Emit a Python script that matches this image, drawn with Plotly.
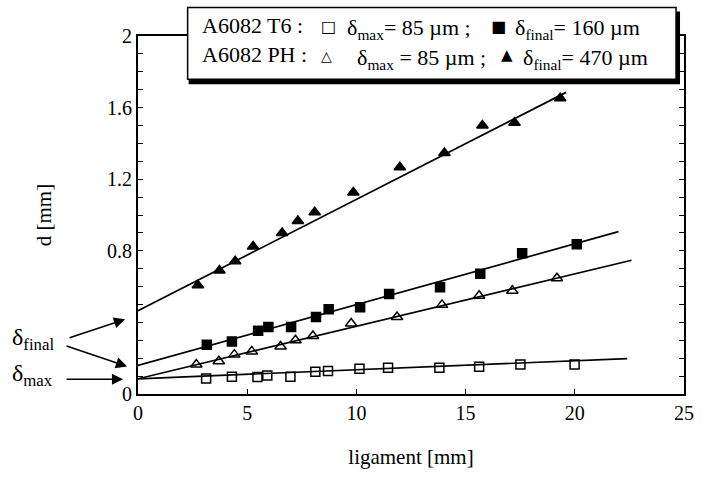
import plotly.graph_objects as go

# ---- data ----
t6_max_x = [3.12, 4.30, 5.47, 5.92, 6.98, 8.12, 8.70, 10.14, 11.45, 13.80, 15.62, 17.51, 19.99]
t6_max_y = [0.086, 0.097, 0.095, 0.104, 0.097, 0.125, 0.128, 0.141, 0.147, 0.147, 0.152, 0.165, 0.165]

t6_final_x = [3.15, 4.30, 5.50, 5.97, 7.01, 8.15, 8.73, 10.17, 11.50, 13.83, 15.67, 17.59, 20.09]
t6_final_y = [0.275, 0.293, 0.353, 0.375, 0.375, 0.430, 0.473, 0.485, 0.559, 0.597, 0.672, 0.787, 0.837]

ph_max_x = [2.67, 3.70, 4.41, 5.21, 6.53, 7.21, 8.01, 9.76, 11.86, 13.92, 15.62, 17.14, 19.18]
ph_max_y = [0.165, 0.183, 0.220, 0.238, 0.265, 0.300, 0.324, 0.394, 0.430, 0.498, 0.549, 0.577, 0.647]

ph_final_x = [2.74, 3.73, 4.45, 5.27, 6.60, 7.32, 8.09, 9.86, 11.99, 14.03, 15.77, 17.24, 19.33]
ph_final_y = [0.608, 0.690, 0.742, 0.824, 0.900, 0.967, 1.016, 1.126, 1.267, 1.346, 1.500, 1.516, 1.652]

# fitted lines: start at ligament 0, end at fit_x_end
fit_y_start = [0.085, 0.160, 0.085, 0.465]
fit_x_end = [22.4, 22.0, 22.6, 19.6]
fit_y_end = [0.198, 0.907, 0.747, 1.685]

x_ticks = [0, 5, 10, 15, 20, 25]
y_ticks = [0, 0.8, 1.2, 1.6, 2]

# ---- figure ----
W, H = 706, 477
L, R, T, B = 138, 18, 36, 77
pw, ph = W - L - R, H - T - B

def px(x):
    return (x - L) / pw

def py(y):
    return (H - B - y) / ph

fig = go.Figure()

for i in range(4):
    fig.add_trace(go.Scatter(x=[0, fit_x_end[i]], y=[fit_y_start[i], fit_y_end[i]],
                             mode="lines", line=dict(color="black", width=1.7),
                             showlegend=False, hoverinfo="skip"))

series = [
    (t6_max_x, t6_max_y, "square-open", 9),
    (t6_final_x, t6_final_y, "square", 9),
    (ph_max_x, ph_max_y, "triangle-up-open", 10),
    (ph_final_x, ph_final_y, "triangle-up", 10),
]
for xs, ys, sym, sz in series:
    fig.add_trace(go.Scatter(x=xs, y=ys, mode="markers",
                             marker=dict(symbol=sym, size=sz, color="black",
                                         line=dict(color="black", width=1.5)),
                             showlegend=False, cliponaxis=False))

serif = "Liberation Serif"

fig.update_layout(
    width=W, height=H,
    margin=dict(l=L, r=R, t=T, b=B),
    paper_bgcolor="white", plot_bgcolor="white",
    font=dict(family=serif, color="black", size=20),
    xaxis=dict(range=[0, 25], tickvals=x_ticks, ticks="inside", ticklen=5,
               tickwidth=1.3, tickcolor="black",
               showline=True, linecolor="black", linewidth=2, mirror=True,
               showgrid=False, zeroline=False,
               tickfont=dict(family=serif, size=20),
               title=dict(text="ligament [mm]", font=dict(family=serif, size=21), standoff=26)),
    yaxis=dict(range=[0, 2], tickvals=y_ticks,
               ticks="inside", ticklen=5, tickwidth=1.3, tickcolor="black",
               minor=dict(dtick=0.1, tick0=0, ticks="inside", ticklen=5,
                          tickwidth=1.3, tickcolor="black", showgrid=False),
               showline=True, linecolor="black", linewidth=2, mirror="ticks",
               showgrid=False, zeroline=False,
               tickfont=dict(family=serif, size=20),
               title=dict(text="d [mm]", font=dict(family=serif, size=21), standoff=50)),
)

# legend box with drop shadow
box_l, box_r, box_t, box_b = 188, 680, 7, 80
fig.add_shape(type="rect", xref="paper", yref="paper", layer="above",
              x0=px(box_l + 1), x1=px(box_r + 4), y0=py(box_b + 5), y1=py(box_t + 4),
              fillcolor="black", line=dict(width=0))
fig.add_shape(type="rect", xref="paper", yref="paper", layer="above",
              x0=px(box_l), x1=px(box_r), y0=py(box_b), y1=py(box_t),
              fillcolor="white", line=dict(color="black", width=1.5))

def txt(x, y, s, size=22, xanchor="left", family=serif):
    fig.add_annotation(x=px(x), y=py(y), xref="paper", yref="paper", text=s,
                       showarrow=False, xanchor=xanchor, yanchor="middle",
                       font=dict(family=family, size=size, color="black"))

sym_font = "DejaVu Sans"
txt(200, 25, "A6082 T6 :")
txt(330, 26, "\u25a1", size=16, xanchor="center", family=sym_font)
txt(347, 29, "\u03b4<sub>max</sub>= 85 \u00b5m ;")
txt(501, 26, "\u25a0", size=16, xanchor="center", family=sym_font)
txt(516, 29, "\u03b4<sub>final</sub>= 160 \u00b5m")

txt(200, 55, "A6082 PH :")
txt(328, 56, "\u25b3", size=14, xanchor="center", family=sym_font)
txt(357, 59, "\u03b4<sub>max</sub> = 85 \u00b5m ;")
txt(510, 55, "\u25b2", size=15, xanchor="center", family=sym_font)
txt(524, 59, "\u03b4<sub>final</sub>= 470 \u00b5m")

# left-hand annotations
txt(9, 344, "\u03b4<sub>final</sub>", size=24)
txt(9, 381, "\u03b4<sub>max</sub>", size=24)

def arrow(tail, tip):
    fig.add_annotation(x=px(tip[0]), y=py(tip[1]), xref="paper", yref="paper",
                       ax=tail[0] - tip[0], ay=tail[1] - tip[1], text="",
                       showarrow=True, arrowhead=2, arrowsize=1.4, arrowwidth=1.6,
                       arrowcolor="black")

arrow((68, 343), (125, 324))
arrow((65, 351), (127, 372))
arrow((65, 385), (123, 385))

fig.write_html("out.html")
